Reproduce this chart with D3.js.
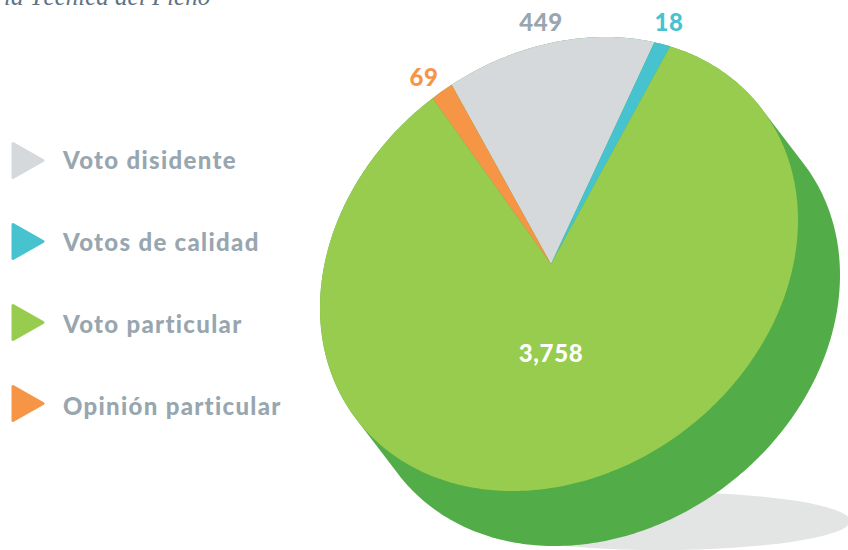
<!DOCTYPE html>
<html>
<head>
<meta charset="utf-8">
<script src="https://cdnjs.cloudflare.com/ajax/libs/d3/7.8.5/d3.min.js"></script>
<style>
  html, body { margin: 0; padding: 0; background: #fff; overflow: hidden; }
  svg { display: block; }
  text { font-family: Lato, sans-serif; font-weight: 900; }
</style>
</head>
<body>
<svg width="848" height="550"></svg>
<script>
const titleText = "la Técnica del Pleno";
const categories = ["Voto disidente", "Votos de calidad", "Voto particular", "Opinión particular"];
const votes = [449, 18, 3758, 69];
// the reference does not draw slices in proportion, so sweeps (degrees) are read off the picture
const drawnSweep = [54, 3.7, 295.8, 6.5];
const colors = ["#d6d9dc", "#47c3cf", "#98cc4e", "#f79546"];
const labelColors = ["#98a6af", "#47c3cf", "#ffffff", "#f79546"];

const svg = d3.select("svg");

const cx = 559, cy = 264;
const rx = 239, ry = 227, cov = -10500;
const apexX = 551, apexY = 264;
const depthX = 42, depthY = 55;

// tilted ellipse as a sheared unit circle
const m = [rx, 0, cov / rx, Math.sqrt(ry * ry - (cov / rx) * (cov / rx))];
function ellipsePoints(dx, dy) {
  return d3.range(0, 2 * Math.PI, Math.PI / 180).map(t => [
    cx + dx + m[0] * Math.cos(t) + m[1] * Math.sin(t),
    cy + dy + m[2] * Math.cos(t) + m[3] * Math.sin(t)
  ]);
}
const closedLine = d3.line().curve(d3.curveLinearClosed);

// title, cut off by the top edge
svg.append("text")
  .attr("x", 4).attr("y", 5)
  .style("font-family", "'Liberation Serif', serif")
  .style("font-style", "italic")
  .style("font-weight", 400)
  .style("font-size", "25px")
  .attr("fill", "#5d7384")
  .text(titleText);

// shadow
svg.append("ellipse")
  .attr("cx", 660).attr("cy", 521)
  .attr("rx", 190).attr("ry", 29)
  .attr("fill", "#e3e5e4");

// extruded side
svg.append("path")
  .attr("d", closedLine(d3.polygonHull(ellipsePoints(0, 0).concat(ellipsePoints(depthX, depthY)))))
  .attr("fill", "#52ac48");

// face
svg.append("clipPath").attr("id", "face")
  .append("path").attr("d", closedLine(ellipsePoints(0, 0)));

const pie = d3.pie().sort(null).value(d => d.sweep)
  .startAngle(-29 * Math.PI / 180)
  .endAngle(331 * Math.PI / 180);
const rows = categories.map((c, i) => ({ name: c, votes: votes[i], sweep: drawnSweep[i], color: colors[i], labelColor: labelColors[i] }));
const arc = d3.arc().innerRadius(0).outerRadius(420);

svg.append("g")
  .attr("clip-path", "url(#face)")
  .append("g")
  .attr("transform", `translate(${apexX},${apexY})`)
  .selectAll("path")
  .data(pie(rows))
  .join("path")
  .attr("d", arc)
  .attr("fill", d => d.data.color);

// value labels
const labelPos = [[541, 31], [669, 31], [551, 362], [424, 86]];
svg.selectAll(".value")
  .data(rows)
  .join("text")
  .attr("class", "value")
  .attr("x", (d, i) => labelPos[i][0])
  .attr("y", (d, i) => labelPos[i][1])
  .attr("text-anchor", "middle")
  .style("font-size", "24px")
  .style("letter-spacing", "0.6px")
  .attr("fill", d => d.labelColor)
  .text(d => d3.format(",")(d.votes));

// legend
const legendY = d3.scalePoint().domain(categories).range([160.5, 403.5]);
const textY = d3.scalePoint().domain(categories).range([169, 415]);
const legend = svg.append("g");
legend.selectAll("path")
  .data(rows)
  .join("path")
  .attr("d", d => {
    const y = legendY(d.name);
    return closedLine([[13, y - 17], [43, y], [13, y + 17]]);
  })
  .attr("fill", d => d.color)
  .attr("stroke", d => d.color)
  .attr("stroke-width", 3)
  .attr("stroke-linejoin", "round");
legend.selectAll("text")
  .data(rows)
  .join("text")
  .attr("x", 63)
  .attr("y", d => textY(d.name))
  .style("font-size", "24px")
  .style("letter-spacing", "1.3px")
  .attr("fill", "#98a6af")
  .text(d => d.name);
</script>
</body>
</html>
